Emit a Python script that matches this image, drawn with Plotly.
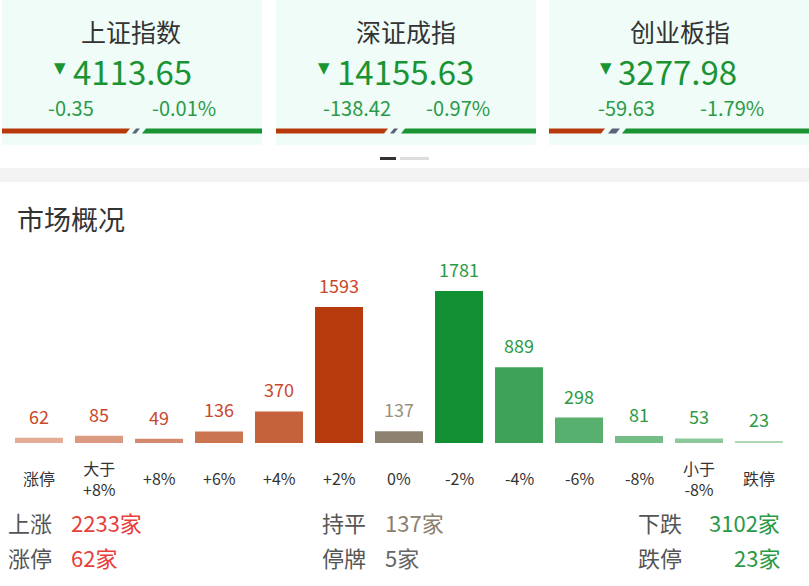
import plotly.graph_objects as go

# ---------------- data ----------------
categories = ["涨停", "大于<br>+8%", "+8%", "+6%", "+4%", "+2%", "0%",
              "-2%", "-4%", "-6%", "-8%", "小于<br>-8%", "跌停"]
counts = [62, 85, 49, 136, 370, 1593, 137, 1781, 889, 298, 81, 53, 23]
bar_colors = ["#e4ad96", "#dc9a80", "#d48a6c", "#cb7550", "#c5613b", "#b73a0c", "#8d826f",
              "#138f33", "#3ea358", "#58b06e", "#74bd87", "#8bc99b", "#acd8b5"]
label_colors = ["#c9482c"] * 6 + ["#9a9080"] + ["#2b9a46"] * 6

index_names = ["上证指数", "深证成指", "创业板指"]
index_values = ["4113.65", "14155.63", "3277.98"]
index_changes = ["-0.35", "-138.42", "-59.63"]
index_pcts = ["-0.01%", "-0.97%", "-1.79%"]

stat_labels = ["上涨", "涨停", "持平", "停牌", "下跌", "跌停"]
stat_values = ["2233家", "62家", "137家", "5家", "3102家", "23家"]
stat_colors = ["#e8403a", "#e8403a", "#8c8070", "#666666", "#2b9a46", "#2b9a46"]

W, H = 809, 586
FONT = "Noto Sans CJK SC"


def px(x):
    return x / W


def py(y):
    return 1 - y / H


fig = go.Figure()
fig.add_trace(go.Bar(
    x=list(range(len(categories))), y=counts,
    marker=dict(color=bar_colors, line=dict(width=0)),
    hoverinfo="skip", showlegend=False,
))

shapes = []
annotations = []

# ---------------- top cards ----------------
cards = [
    dict(x0=2, x1=262, red_end=130, gray=(132, 140), green_start=142, cx=131,
         tri=68, val=73, ch=71, pc=184),
    dict(x0=276, x1=536, red_end=388, gray=(390, 398), green_start=401, cx=406,
         tri=332, val=337, ch=357, pc=458),
    dict(x0=549, x1=809, red_end=605, gray=(608, 620), green_start=622, cx=680,
         tri=614, val=618, ch=626, pc=732),
]
y0s, y1s = 128.5, 133.5
for i, c in enumerate(cards):
    shapes.append(dict(type="rect", xref="paper", yref="paper",
                       x0=px(c["x0"]), x1=px(c["x1"]), y0=py(145), y1=py(0),
                       fillcolor="#effcf8", line=dict(width=0), layer="below"))
    shapes.append(dict(type="path", xref="paper", yref="paper",
                       path=f"M {px(c['x0'])},{py(y1s)} L {px(c['red_end']-4)},{py(y1s)} L {px(c['red_end'])},{py(y0s)} L {px(c['x0'])},{py(y0s)} Z",
                       fillcolor="#b83a0c", line=dict(width=0)))
    g0, g1 = c["gray"]
    shapes.append(dict(type="path", xref="paper", yref="paper",
                       path=f"M {px(g0)},{py(y1s)} L {px(g1-4)},{py(y1s)} L {px(g1)},{py(y0s)} L {px(g0+4)},{py(y0s)} Z",
                       fillcolor="#5a6478", line=dict(width=0)))
    shapes.append(dict(type="path", xref="paper", yref="paper",
                       path=f"M {px(c['green_start'])},{py(y1s)} L {px(c['x1'])},{py(y1s)} L {px(c['x1'])},{py(y0s)} L {px(c['green_start']+4)},{py(y0s)} Z",
                       fillcolor="#1a9333", line=dict(width=0)))
    annotations.append(dict(xref="paper", yref="paper", x=px(c["cx"]), y=py(31),
                            text=index_names[i], showarrow=False,
                            font=dict(size=25, color="#333333", family=FONT),
                            xanchor="center", yanchor="middle"))
    annotations.append(dict(xref="paper", yref="paper", x=px(c["tri"]), y=py(68),
                            text="▼", showarrow=False,
                            font=dict(size=15, color="#1a9333", family="DejaVu Sans"),
                            xanchor="right", yanchor="middle"))
    annotations.append(dict(xref="paper", yref="paper", x=px(c["val"] - 2), y=py(71),
                            text=index_values[i], showarrow=False,
                            font=dict(size=33, color="#1a9333", family=FONT),
                            xanchor="left", yanchor="middle"))
    annotations.append(dict(xref="paper", yref="paper", x=px(c["ch"]), y=py(108),
                            text=index_changes[i], showarrow=False,
                            font=dict(size=20, color="#2b9a46", family=FONT),
                            xanchor="center", yanchor="middle"))
    annotations.append(dict(xref="paper", yref="paper", x=px(c["pc"]), y=py(108),
                            text=index_pcts[i], showarrow=False,
                            font=dict(size=20, color="#2b9a46", family=FONT),
                            xanchor="center", yanchor="middle"))

# page dots
shapes.append(dict(type="rect", xref="paper", yref="paper", x0=px(380), x1=px(396),
                   y0=py(160), y1=py(157), fillcolor="#333333", line=dict(width=0)))
shapes.append(dict(type="rect", xref="paper", yref="paper", x0=px(400), x1=px(429),
                   y0=py(160), y1=py(157), fillcolor="#dddddd", line=dict(width=0)))
# gray separator band
shapes.append(dict(type="rect", xref="paper", yref="paper", x0=0, x1=1,
                   y0=py(182), y1=py(168), fillcolor="#f3f3f3", line=dict(width=0)))

# section title
annotations.append(dict(xref="paper", yref="paper", x=px(15), y=py(218),
                        text="市场概况", showarrow=False,
                        font=dict(size=27, color="#333333", family=FONT),
                        xanchor="left", yanchor="middle"))

# bar value labels
for i, v in enumerate(counts):
    annotations.append(dict(xref="x", yref="y", x=i, y=v, text=str(v), showarrow=False,
                            yshift=22, xanchor="center", yanchor="middle",
                            font=dict(size=18, color=label_colors[i], family=FONT)))
# category labels
for i, cat in enumerate(categories):
    annotations.append(dict(xref="x", yref="paper", x=i, y=py(478), text=cat,
                            showarrow=False, xanchor="center", yanchor="middle",
                            font=dict(size=16, color="#333333", family=FONT)))

# bottom statistics
stat_pos = [(6, 69, 522, "left"), (6, 69, 557, "left"),
            (320, 383, 522, "left"), (320, 383, 557, "left"),
            (636, 782, 522, "right"), (636, 782, 557, "right")]
for i, (lx, vx, yy, anc) in enumerate(stat_pos):
    annotations.append(dict(xref="paper", yref="paper", x=px(lx), y=py(yy),
                            text=stat_labels[i], showarrow=False,
                            xanchor="left", yanchor="middle",
                            font=dict(size=22, color="#555555", family=FONT)))
    annotations.append(dict(xref="paper", yref="paper", x=px(vx), y=py(yy),
                            text=stat_values[i], showarrow=False,
                            xanchor=anc, yanchor="middle",
                            font=dict(size=22, color=stat_colors[i], family=FONT)))

fig.update_layout(
    width=W, height=H,
    margin=dict(l=0, r=0, t=0, b=0),
    paper_bgcolor="white", plot_bgcolor="rgba(0,0,0,0)",
    bargap=0.2,
    xaxis=dict(domain=[px(9), px(789)], range=[-0.5, 12.5], visible=False, fixedrange=True),
    yaxis=dict(domain=[py(443), py(250)], range=[0, 193 / 0.0853], visible=False, fixedrange=True),
    shapes=shapes, annotations=annotations,
    font=dict(family=FONT),
)

fig.write_html("out.html", config={"displayModeBar": False},
               post_script="document.body.style.margin='0';")
